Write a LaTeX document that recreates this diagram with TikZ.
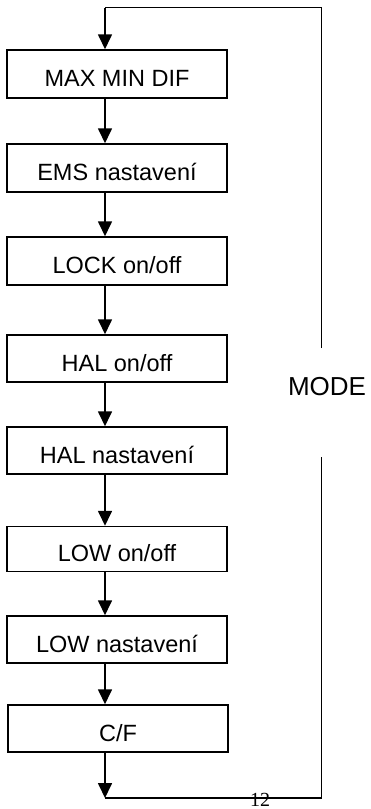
\documentclass[tikz,border=0pt]{standalone}
\usepackage{fontspec}
\setmainfont{Liberation Sans}
\newfontfamily\numfont{Liberation Serif}
\usetikzlibrary{arrows.meta}
\tikzset{
  stepbox/.style={draw, line width=1.5pt, minimum width=220pt, minimum height=47pt,
    inner sep=0pt, text height=25.5pt, text depth=0pt,
    font=\fontsize{23.5}{27}\selectfont},
  flow/.style={line width=1.7pt, -{Triangle[width=14pt,length=15pt]}},
  loopline/.style={line width=1.5pt}
}
\begin{document}
\begin{tikzpicture}[x=1pt,y=-1pt]
\useasboundingbox (0,0) rectangle (371,809);
\node[stepbox, minimum height=48pt] (b1) at (117,74) {MAX MIN DIF};
\node[stepbox, minimum height=48pt] (b2) at (117,168) {EMS nastavení};
\node[stepbox, minimum height=48pt] (b3) at (117,261) {LOCK on/off};
\node[stepbox] (b4) at (117,358.5) {HAL on/off};
\node[stepbox] (b5) at (117,450.5) {HAL nastavení};
\node[stepbox, minimum height=45pt] (b6) at (117,549) {LOW on/off};
\node[stepbox] (b7) at (117,639.5) {LOW nastavení};
\node[stepbox] (b8) at (118,728.5) {C/F};
\coordinate (tl) at (105,7.5);
\coordinate (tr) at (321.7,7.5);
\coordinate (mu) at (321.7,348);
\coordinate (ml) at (321.7,457);
\coordinate (br) at (321.7,798);
\coordinate (bl) at (105,798);
\node[anchor=base, inner sep=0pt, font=\fontsize{26}{30}\selectfont] (mode) at (327,395.5) {MODE};
\node[anchor=base, inner sep=0pt, font=\numfont\fontsize{20}{24}\selectfont] (pg) at (260,806) {12};
\draw[loopline] (mu) -- (tr) -- (tl);
\draw[flow] (tl) -- (b1.north -| tl);
\foreach \a/\b in {b1/b2,b2/b3,b3/b4,b4/b5,b5/b6,b6/b7,b7/b8}
  \draw[flow] (\a.south -| tl) -- (\b.north -| tl);
\draw[flow] (b8.south -| tl) -- (bl);
\draw[loopline] (bl) -- (br) -- (ml);
\end{tikzpicture}
\end{document}
